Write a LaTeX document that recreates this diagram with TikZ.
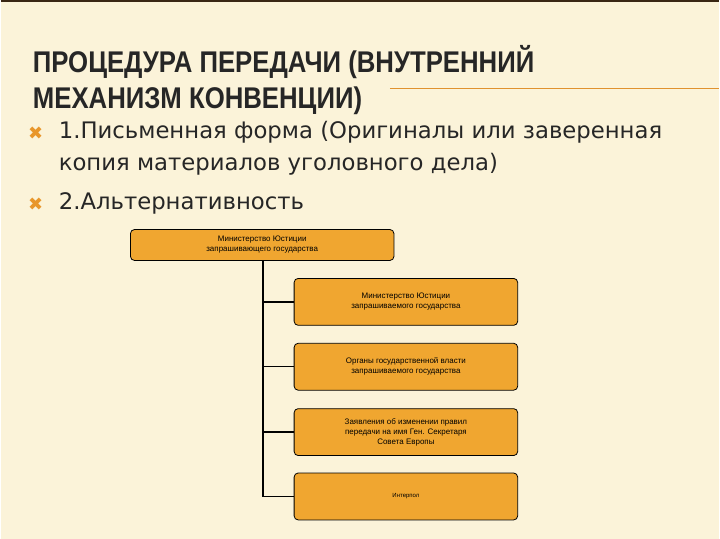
\documentclass[tikz,border=0pt]{standalone}
\usepackage{fontspec}
\setmainfont{Liberation Sans}
\newfontfamily\titlefont[FakeStretch=0.86]{Liberation Sans}
\newfontfamily\bodyfont{DejaVu Sans}
\definecolor{bg}{HTML}{FBF3D9}
\definecolor{boxfill}{HTML}{F0A630}
\definecolor{bul}{HTML}{E8962A}
\definecolor{txt}{HTML}{262626}
\tikzset{
  orgbox/.style={draw=black, line width=0.8pt, fill=boxfill, rounded corners=4pt, align=center, font=\fontsize{8}{10}\selectfont, inner sep=0pt},
  conn/.style={draw=black, line width=1.5pt},
  bulletmark/.style={text=bul, font=\bodyfont\fontsize{18}{18}\selectfont, anchor=west}
}
\begin{document}
\begin{tikzpicture}[x=1pt,y=-1pt]
\fill[bg] (0,0) rectangle (720,540);
\draw[line width=1.5pt, black!70!brown] (0,1) -- (720,1);
\draw[line width=0.6pt, bul!80!brown] (390,88) -- (720,88);
\node[anchor=west, text=txt, align=left, font=\titlefont\bfseries\fontsize{30}{36}\selectfont, inner sep=0pt] (title) at (32,80) {ПРОЦЕДУРА ПЕРЕДАЧИ (ВНУТРЕННИЙ\\МЕХАНИЗМ КОНВЕНЦИИ)};
\node[bulletmark] (b1) at (24,134) {✖};
\node[bulletmark] (b2) at (24,205) {✖};
\node[anchor=north west, text=txt, align=left, font=\bodyfont\fontsize{22.8}{32}\selectfont, inner sep=0pt] (t1) at (58,121) {1.Письменная форма (Оригиналы или заверенная\\копия материалов уголовного дела)};
\node[anchor=north west, text=txt, font=\bodyfont\fontsize{22.8}{32}\selectfont, inner sep=0pt] (t2) at (58,193) {2.Альтернативность};
\node[orgbox, minimum width=264pt, minimum height=31pt] (top) at (262,245.5) {Министерство Юстиции\\запрашивающего государства};
\node[orgbox, minimum width=224pt, minimum height=47pt] (c1) at (406,302.5) {Министерство Юстиции\\запрашиваемого государства};
\node[orgbox, minimum width=224pt, minimum height=47pt] (c2) at (406,367.5) {Органы государственной власти\\запрашиваемого государства};
\node[orgbox, minimum width=224pt, minimum height=47pt] (c3) at (406,433) {Заявления об изменении правил\\передачи на имя Ген. Секретаря\\Совета Европы};
\node[orgbox, minimum width=224pt, minimum height=47pt, font=\fontsize{6}{7}\selectfont] (c4) at (406,497.5) {Интерпол};
\coordinate (trunk) at (263,0);
\draw[conn] (top.south -| trunk) |- (c4.west);
\foreach \c in {c1,c2,c3} \draw[conn] (\c.west -| trunk) -- (\c.west);
\end{tikzpicture}
\end{document}
